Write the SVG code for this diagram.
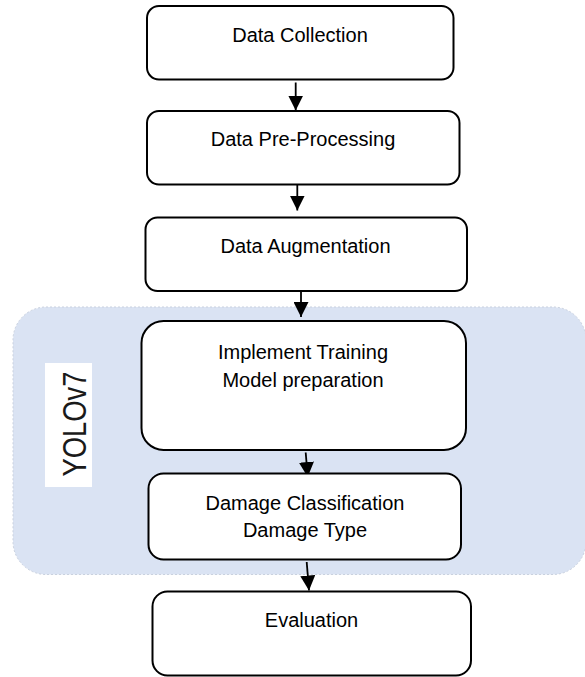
<svg xmlns="http://www.w3.org/2000/svg" width="585" height="677" viewBox="0 0 585 677">
<defs>
<style>
.box{fill:#ffffff;stroke:#000000;stroke-width:2}
.lbl{font-family:"Liberation Sans",Arial,sans-serif;font-size:20px;fill:#000000;text-anchor:middle}
.con{stroke:#000000;stroke-width:1.8;fill:none}
.yolo{font-family:"Liberation Sans",Arial,sans-serif;font-size:33px;fill:#1a1a1a;text-anchor:middle}
</style>
<marker id="ah" viewBox="0 0 15 15" refX="15" refY="7.5" markerWidth="15" markerHeight="15" markerUnits="userSpaceOnUse" orient="auto">
<path d="M0,0 L15,7.5 L0,15 z" fill="#000000"/>
</marker>
</defs>
<rect x="0" y="0" width="585" height="677" fill="#ffffff"/>
<g id="yolov7-region">
<rect x="13" y="307" width="573" height="267.5" rx="33" ry="33" fill="#dae3f3" stroke="#c9d1df" stroke-width="1" stroke-dasharray="2,2"/>
<rect x="45" y="363" width="47" height="124" fill="#ffffff"/>
<text class="yolo" transform="translate(86,424) rotate(-90)" textLength="105" lengthAdjust="spacingAndGlyphs">YOLOv7</text>
</g>
<g id="connectors">
<line class="con" x1="295.7" y1="82.5" x2="295.7" y2="110.5" marker-end="url(#ah)"/>
<line class="con" x1="297.3" y1="185" x2="297.3" y2="210.5" marker-end="url(#ah)"/>
<line class="con" x1="301" y1="292" x2="301" y2="317" marker-end="url(#ah)"/>
<line class="con" x1="305.7" y1="452.5" x2="307.7" y2="477" marker-end="url(#ah)"/>
<line class="con" x1="306.7" y1="562" x2="309" y2="590.5" marker-end="url(#ah)"/>
</g>
<g id="node-data-collection">
<rect class="box" x="147" y="6" width="306.5" height="73.5" rx="12"/>
<text class="lbl" x="300" y="42">Data Collection</text>
</g>
<g id="node-data-preprocessing">
<rect class="box" x="147" y="111" width="312.5" height="73.5" rx="12"/>
<text class="lbl" x="303" y="146">Data Pre-Processing</text>
</g>
<g id="node-data-augmentation">
<rect class="box" x="145.5" y="217.5" width="321.5" height="73.5" rx="12"/>
<text class="lbl" x="305.5" y="252.5">Data Augmentation</text>
</g>
<g id="node-implement-training">
<rect class="box" x="141.5" y="321" width="324.5" height="129" rx="22"/>
<text class="lbl" x="303" y="359">Implement Training</text>
<text class="lbl" x="303" y="387">Model preparation</text>
</g>
<g id="node-damage-classification">
<rect class="box" x="148.5" y="473.5" width="312.5" height="86" rx="15"/>
<text class="lbl" x="305" y="510">Damage Classification</text>
<text class="lbl" x="305" y="537">Damage Type</text>
</g>
<g id="node-evaluation">
<rect class="box" x="152.5" y="591.5" width="318.5" height="84" rx="15"/>
<text class="lbl" x="311.5" y="627">Evaluation</text>
</g>
</svg>
